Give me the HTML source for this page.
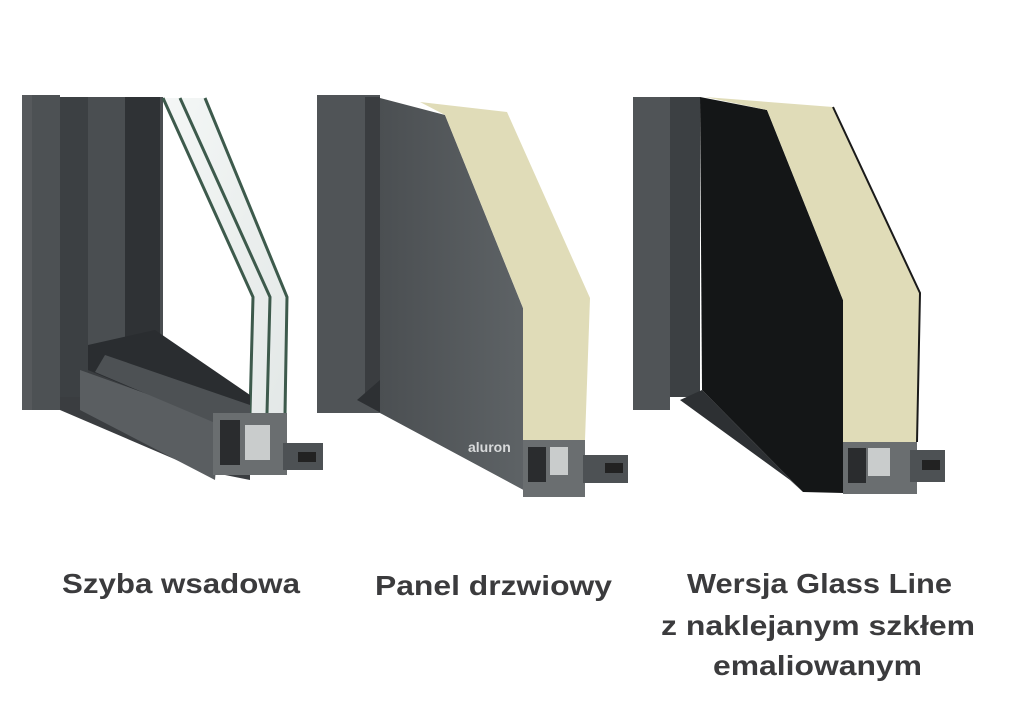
<!DOCTYPE html>
<html><head><meta charset="utf-8"><style>
html,body{margin:0;padding:0;background:#fff;width:1024px;height:724px;overflow:hidden}
svg{display:block}
text{font-family:"Liberation Sans",sans-serif;font-weight:bold;fill:#3b3b3d;font-size:28px}
</style></head><body>
<svg width="1024" height="724" viewBox="0 0 1024 724">
<defs>
<linearGradient id="g1" x1="0" x2="1"><stop offset="0" stop-color="#4b4f52"/><stop offset="1" stop-color="#5f6467"/></linearGradient>
<linearGradient id="gl" x1="0" x2="1" y1="0" y2="1"><stop offset="0" stop-color="#f4f7f6"/><stop offset="1" stop-color="#e3e8e7"/></linearGradient>
</defs>
<!-- Object 1 -->
<polygon points="60,360 250,413 250,480 200,470 60,410" fill="#3a3d40"/>
<rect x="22" y="95" width="38" height="315" fill="#4d5154"/>
<rect x="22" y="95" width="10" height="315" fill="#56595c"/>
<rect x="60" y="97" width="28" height="300" fill="#3c4043"/>
<rect x="88" y="97" width="75" height="270" fill="#4a4e51"/>
<rect x="125" y="97" width="35" height="260" fill="#2f3235"/>
<polygon points="163,98 205,98 287,297 287,413 250,413 253,297" fill="url(#gl)"/>
<polyline points="163,98 253,297 250,413" fill="none" stroke="#3d5a4c" stroke-width="3"/>
<polyline points="180,98 270,297 267,413" fill="none" stroke="#3d5a4c" stroke-width="3"/>
<polyline points="205,98 287,297 285,413" fill="none" stroke="#3d5a4c" stroke-width="3"/>
<polygon points="88,345 155,330 250,395 250,420 220,425 88,370" fill="#2a2d30"/>
<polygon points="80,370 220,420 215,480 80,410" fill="#5a5e61"/>
<polygon points="105,355 250,405 250,420 220,425 95,372" fill="#4d5154"/>
<rect x="213" y="413" width="74" height="62" fill="#6a6e70"/>
<rect x="220" y="420" width="20" height="45" fill="#2a2c2e"/>
<rect x="245" y="425" width="25" height="35" fill="#c9cccc"/>
<rect x="283" y="443" width="40" height="27" fill="#4d5154"/>
<rect x="298" y="452" width="18" height="10" fill="#222"/>
<!-- Object 2 -->
<rect x="317" y="95" width="63" height="318" fill="#505457"/>
<rect x="365" y="97" width="15" height="300" fill="#3a3d40"/>
<polygon points="357,400 380,380 533,480 533,495" fill="#2d3033"/>
<polygon points="380,98 445,115 523,308 523,440 533,495 380,413" fill="url(#g1)"/>
<polygon points="420,102 507,112 590,298 585,440 523,440 523,308 445,115" fill="#e0dcb8"/>
<text x="468" y="452" style="font-size:14px;fill:#d8dadb">aluron</text>
<rect x="523" y="440" width="62" height="57" fill="#6a6e70"/>
<rect x="528" y="447" width="18" height="35" fill="#2a2c2e"/>
<rect x="550" y="447" width="18" height="28" fill="#c9cccc"/>
<rect x="583" y="455" width="45" height="28" fill="#4d5154"/>
<rect x="605" y="463" width="18" height="10" fill="#222"/>
<!-- Object 3 -->
<rect x="633" y="97" width="37" height="313" fill="#505457"/>
<rect x="670" y="97" width="30" height="300" fill="#3c4043"/>
<polygon points="680,400 702,390 803,492 790,480" fill="#2d3033"/>
<polygon points="700,97 767,110 843,300 843,493 803,492 702,390" fill="#141617"/>
<polygon points="705,97 833,107 920,293 917,442 843,442 843,300 767,110" fill="#e0dcb8"/>
<polyline points="833,107 920,293 917,442" fill="none" stroke="#1a1a1a" stroke-width="2"/>
<rect x="843" y="442" width="74" height="52" fill="#6a6e70"/>
<rect x="848" y="448" width="18" height="35" fill="#2a2c2e"/>
<rect x="868" y="448" width="22" height="28" fill="#c9cccc"/>
<rect x="910" y="450" width="35" height="32" fill="#4d5154"/>
<rect x="922" y="460" width="18" height="10" fill="#222"/>
<!-- Labels -->
<text x="62" y="593" textLength="238" lengthAdjust="spacingAndGlyphs">Szyba wsadowa</text>
<text x="375" y="595" textLength="237" lengthAdjust="spacingAndGlyphs">Panel drzwiowy</text>
<text x="687" y="593" textLength="265" lengthAdjust="spacingAndGlyphs">Wersja Glass Line</text>
<text x="661" y="635" textLength="314" lengthAdjust="spacingAndGlyphs">z naklejanym szkłem</text>
<text x="713" y="675" textLength="209" lengthAdjust="spacingAndGlyphs">emaliowanym</text>
</svg>
</body></html>
